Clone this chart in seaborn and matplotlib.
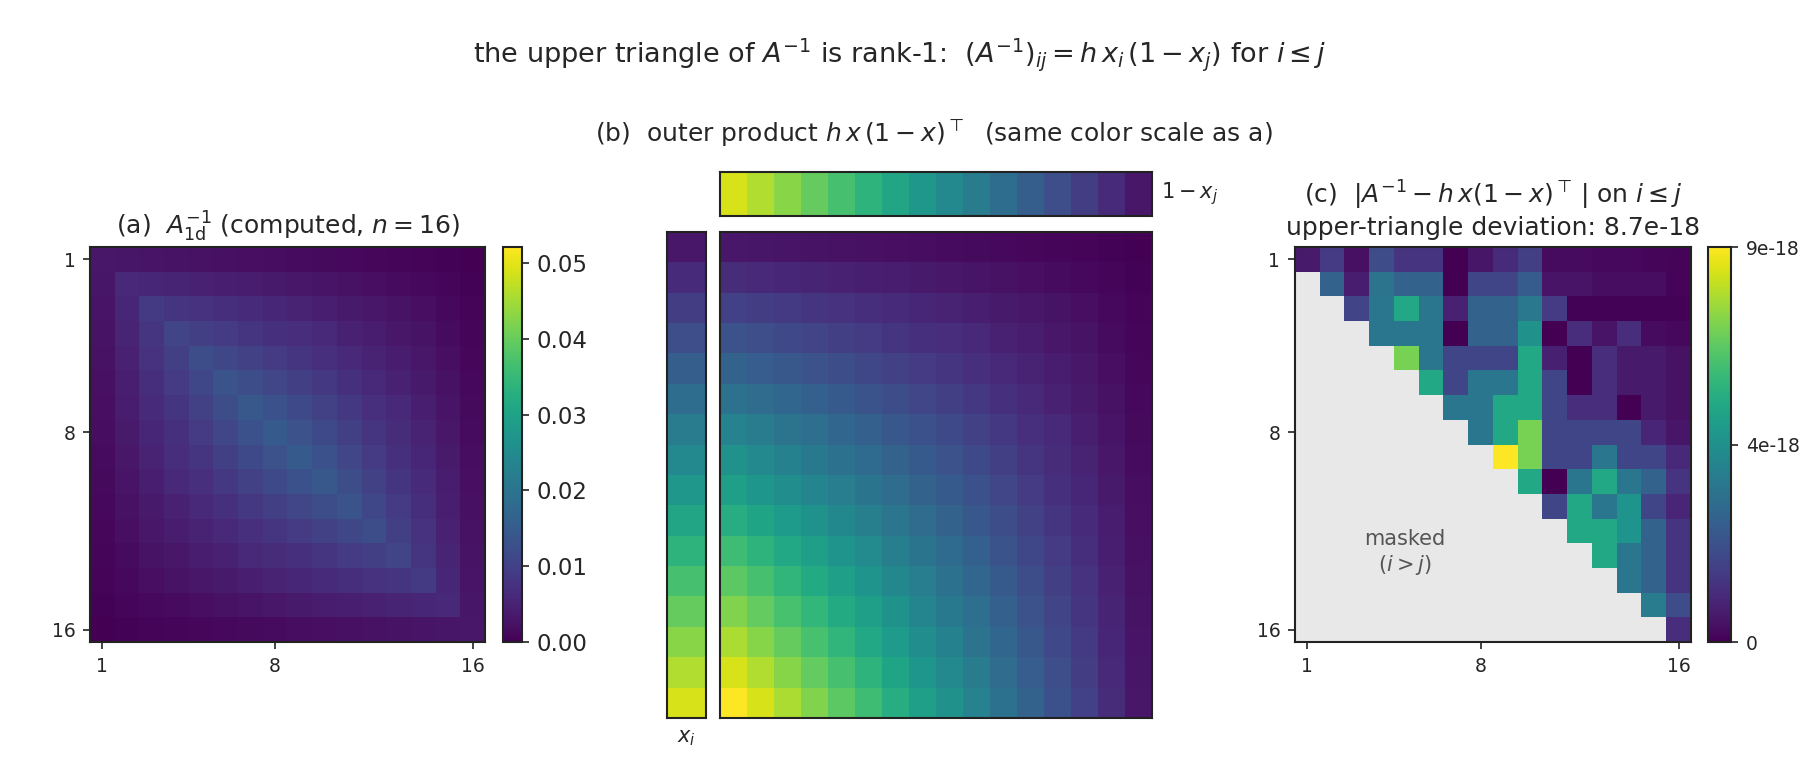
import numpy as np
import matplotlib
matplotlib.use("Agg")
import matplotlib.pyplot as plt
import seaborn as sns

# grid for n = 16 interior points, h = 1/(n+1)
n = 16
h = 0.0588235
x_grid = [0.0588, 0.1176, 0.1765, 0.2353, 0.2941, 0.3529, 0.4118, 0.4706,
          0.5294, 0.5882, 0.6471, 0.7059, 0.7647, 0.8235, 0.8824, 0.9412]
tick_rows = [1, 8, 16]

# |A^-1 - h x (1-x)^T| on the upper triangle, units of 1e-18, row i starts at column i
dev_rows = [
    [0.6, 1.5, 0.35, 2.0, 1.3, 1.3, 0.0, 0.5, 1.05, 1.6, 0.26, 0.26, 0.17, 0.17, 0.13, 0.09],
    [2.7, 0.7, 3.3, 2.7, 2.7, 0.0, 1.8, 1.8, 2.5, 0.45, 0.45, 0.3, 0.3, 0.28, 0.1],
    [1.75, 3.4, 5.2, 3.4, 0.8, 2.7, 2.7, 3.5, 1.5, 0.05, 0.05, 0.04, 0.04, 0.04],
    [3.4, 3.4, 3.4, 0.0, 2.7, 2.7, 4.35, 0.0, 1.1, 0.45, 1.1, 0.26, 0.2],
    [6.9, 3.4, 1.8, 1.8, 1.8, 5.2, 0.75, 0.0, 1.1, 0.6, 0.6, 0.4],
    [5.2, 1.8, 3.4, 3.4, 5.2, 1.8, 0.0, 1.1, 0.6, 0.6, 0.4],
    [3.4, 3.4, 5.2, 5.2, 1.8, 1.1, 1.1, 0.0, 0.6, 0.4],
    [3.4, 5.2, 6.9, 1.8, 1.8, 1.8, 1.8, 0.9, 0.5],
    [8.7, 6.9, 1.8, 1.8, 3.4, 1.8, 1.8, 1.0],
    [5.2, 0.0, 3.4, 5.2, 3.4, 2.7, 1.3],
    [1.8, 5.2, 3.4, 4.5, 1.8, 0.9],
    [5.2, 5.2, 4.5, 2.7, 1.3],
    [5.2, 3.4, 2.7, 1.3],
    [3.4, 2.7, 1.3],
    [3.6, 2.0],
    [1.1],
]

sns.set_style("ticks")
plt.rcParams['font.family'] = ['DejaVu Sans']
plt.rcParams['mathtext.fontset'] = 'dejavusans'

x = np.array(x_grid)
outer = h * np.outer(x, 1 - x)
A_inv = np.triu(outer) + np.triu(outer, 1).T
vmax_ab = outer.max()

dev = np.full((n, n), np.nan)
for i, row in enumerate(dev_rows):
    dev[i, i:i + len(row)] = np.array(row) * 1e-18
dev_max = np.nanmax(dev)

fig = plt.figure(figsize=(12, 5.2))

edge = '#222222'


def frame(ax, lw=1.0):
    for s in ax.spines.values():
        s.set_visible(True)
        s.set_linewidth(lw)
        s.set_edgecolor(edge)


def index_ticks(ax):
    pos = [t - 0.5 for t in tick_rows]
    ax.set_xticks(pos)
    ax.set_xticklabels([str(t) for t in tick_rows], rotation=0, fontsize=9)
    ax.set_yticks(pos)
    ax.set_yticklabels([str(t) for t in tick_rows], rotation=0, fontsize=9)
    ax.tick_params(length=3.5, width=0.8, color=edge)


# (a) computed inverse
ax_a = fig.add_axes([0.05, 0.1769, 0.2194, 0.5064])
cax_a = fig.add_axes([0.2794, 0.1769, 0.0106, 0.5064])
sns.heatmap(A_inv, ax=ax_a, cmap='viridis', vmin=0, vmax=vmax_ab, cbar_ax=cax_a,
            xticklabels=False, yticklabels=False,
            cbar_kws={'ticks': [0, 0.01, 0.02, 0.03, 0.04, 0.05]})
index_ticks(ax_a)
frame(ax_a)
cb = ax_a.collections[0].colorbar
cb.outline.set_linewidth(1.0)
cb.outline.set_edgecolor(edge)
cb.ax.set_yticklabels(['0.00', '0.01', '0.02', '0.03', '0.04', '0.05'])
cb.ax.tick_params(labelsize=11, length=3.5, width=0.8, color=edge)
ax_a.set_title(r'(a)  $A_{\mathrm{1d}}^{-1}$ (computed, $n=16$)', fontsize=12)

# (b) outer product with its two factors
ax_b = fig.add_axes([0.4, 0.0795, 0.24, 0.6231])
ax_top = fig.add_axes([0.4, 0.7231, 0.24, 0.0564])
ax_left = fig.add_axes([0.3706, 0.0795, 0.0217, 0.6231])
sns.heatmap(outer, ax=ax_b, cmap='viridis', vmin=0, vmax=vmax_ab, cbar=False,
            xticklabels=False, yticklabels=False)
sns.heatmap((1 - x)[None, :], ax=ax_top, cmap='viridis', vmin=0, vmax=1, cbar=False,
            xticklabels=False, yticklabels=False)
sns.heatmap(x[:, None], ax=ax_left, cmap='viridis', vmin=0, vmax=1, cbar=False,
            xticklabels=False, yticklabels=False)
for ax in (ax_b, ax_top, ax_left):
    ax.set_xticks([])
    ax.set_yticks([])
    frame(ax)
ax_top.text(1.02, 0.5, r'$1-x_j$', transform=ax_top.transAxes, ha='left', va='center',
            fontsize=10)
ax_left.text(0.5, -0.02, r'$x_i$', transform=ax_left.transAxes, ha='center', va='top',
             fontsize=10)
fig.text(0.519, 0.829, r'(b)  outer product $h\,x\,(1-x)^\top$  (same color scale as a)',
         ha='center', va='center', fontsize=12)

# (c) deviation on upper triangle
ax_c = fig.add_axes([0.7194, 0.1769, 0.22, 0.5064])
cax_c = fig.add_axes([0.9489, 0.1769, 0.0128, 0.5064])
ax_c.set_facecolor('#e8e8e8')
sns.heatmap(dev, ax=ax_c, cmap='viridis', vmin=0, vmax=dev_max, mask=np.isnan(dev),
            cbar_ax=cax_c, xticklabels=False, yticklabels=False,
            cbar_kws={'ticks': [0, dev_max / 2, dev_max]})
index_ticks(ax_c)
frame(ax_c)
cb = ax_c.collections[0].colorbar
cb.outline.set_linewidth(1.0)
cb.outline.set_edgecolor(edge)
cb.ax.set_yticklabels(['0', f'{dev_max / 2:.0e}', f'{dev_max:.0e}'])
cb.ax.tick_params(labelsize=9, length=3.5, width=0.8, color=edge)
ax_c.text(4.45, 12.4, 'masked\n$(i > j)$', ha='center', va='center', fontsize=10,
          color='#555555')
ax_c.set_title(r'(c)  $|A^{-1} - h\,x(1-x)^\top\,|$ on $i \leq j$'
               '\nupper-triangle deviation: ' + f'{dev_max:.1e}', fontsize=12)

fig.suptitle(r'the upper triangle of $A^{-1}$ is rank-1:  $(A^{-1})_{ij} = h\,x_i\,(1-x_j)$ for $i \leq j$',
             y=0.93, va='center', fontsize=13)

fig.savefig('out.png', dpi=150)
